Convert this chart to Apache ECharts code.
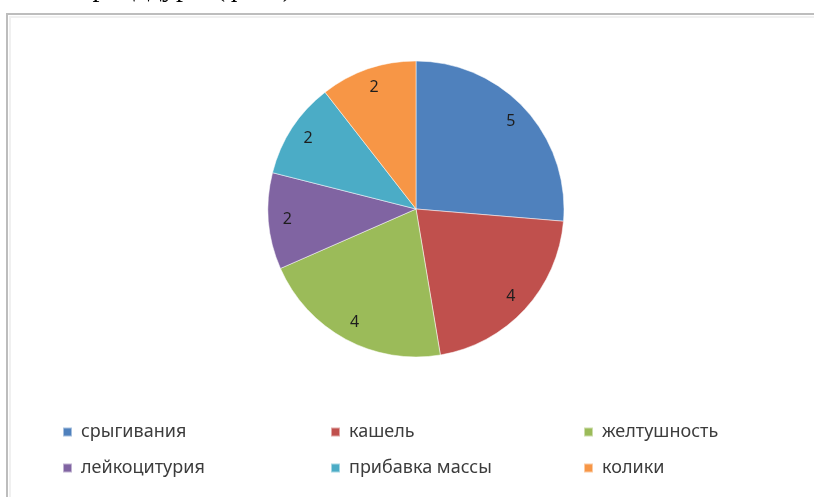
<!DOCTYPE html>
<html>
<head>
<meta charset="utf-8">
<script src="https://cdn.jsdelivr.net/npm/echarts@6/dist/echarts.min.js"></script>
<style>
  html, body { margin: 0; padding: 0; background: #fff; }
  #chart { width: 814px; height: 497px; }
</style>
</head>
<body>
<div id="chart"></div>
<script>
// Symptom counts shown in the pie
const categories = ['срыгивания', 'кашель', 'желтушность', 'лейкоцитурия', 'прибавка массы', 'колики'];
const counts = [5, 4, 4, 2, 2, 2];
const colors = ['#4F81BD', '#C0504D', '#9BBB59', '#8064A2', '#4BACC6', '#F79646'];
const headingText = 'процедуры (фото)';

const pieData = categories.map((name, i) => ({
  name: name,
  value: counts[i],
  itemStyle: { color: colors[i] }
}));

const center = [416, 209];
const R = 148;

// legend columns: two items per column
const legendFont = { fontFamily: 'Noto Sans', fontSize: 18, color: '#3c3c3c' };
function legendColumn(names, left) {
  return {
    orient: 'vertical',
    left: left,
    top: 418,
    itemWidth: 9,
    itemHeight: 9,
    itemGap: 18,
    icon: 'rect',
    selectedMode: false,
    data: names,
    textStyle: Object.assign({ padding: [0, 0, 0, 4] }, legendFont)
  };
}

const chart = echarts.init(document.getElementById('chart'), null, { renderer: 'canvas' });
chart.setOption({
  animation: false,
  backgroundColor: '#ffffff',
  color: colors,
  graphic: [
    {
      type: 'text',
      x: 292, y: 3,
      style: {
        text: headingText,
        font: '28px "Liberation Serif"',
        fill: '#000',
        align: 'right',
        verticalAlign: 'bottom'
      }
    },
    {
      type: 'rect',
      shape: { x: 7, y: 14, width: 1000, height: 700 },
      style: { fill: 'none', stroke: '#bdbdbd', lineWidth: 2 }
    },
    {
      type: 'rect',
      shape: { x: 10, y: 17, width: 1000, height: 700 },
      style: { fill: 'none', stroke: '#f0f0f0', lineWidth: 2 }
    }
  ],
  legend: [
    legendColumn([categories[0], categories[3]], 57),
    legendColumn([categories[1], categories[4]], 325),
    legendColumn([categories[2], categories[5]], 578)
  ],
  series: [
    {
      type: 'pie',
      center: center,
      radius: [0, R],
      startAngle: 90,
      clockwise: true,
      silent: true,
      label: { show: false },
      labelLine: { show: false },
      itemStyle: { borderColor: 'rgba(255,255,255,0.5)', borderWidth: 1 },
      data: pieData
    },
    {
      // transparent ring that carries the value labels at ~0.85 of the radius
      type: 'pie',
      center: center,
      radius: [104, R],
      startAngle: 90,
      clockwise: true,
      silent: true,
      legendHoverLink: false,
      itemStyle: { color: 'rgba(0,0,0,0)' },
      label: {
        show: true,
        position: 'inside',
        formatter: '{c}',
        fontFamily: 'Noto Sans',
        fontSize: 16,
        color: '#1e1e1e'
      },
      labelLine: { show: false },
      data: categories.map((name, i) => ({ name: name, value: counts[i] }))
    }
  ]
});
</script>
</body>
</html>
